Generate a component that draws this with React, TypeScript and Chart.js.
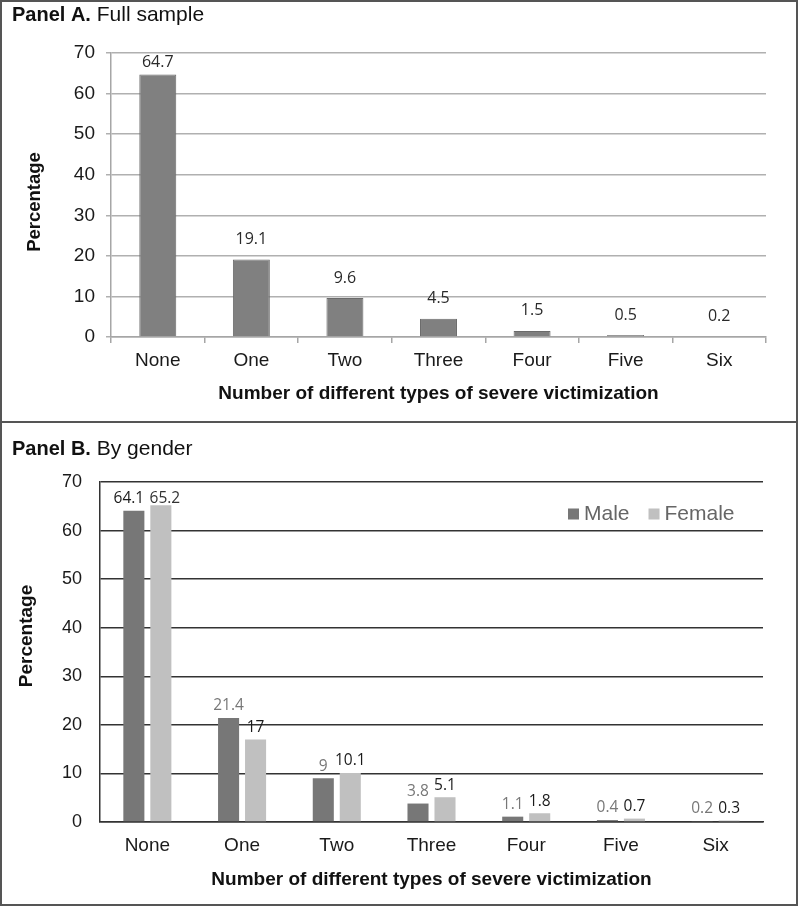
import React, { useEffect, useRef } from "react";
import { Chart, registerables } from "chart.js";

Chart.register(...registerables);

// ---------- data ----------
const categories = ["None", "One", "Two", "Three", "Four", "Five", "Six"];
const fullSample = [64.7, 19.1, 9.6, 4.5, 1.5, 0.5, 0.2];
const maleValues = [64.1, 21.4, 9, 3.8, 1.1, 0.4, 0.2];
const femaleValues = [65.2, 17, 10.1, 5.1, 1.8, 0.7, 0.3];
const yTickValues = [0, 10, 20, 30, 40, 50, 60, 70];
const seriesNames = ["Male", "Female"];
const xAxisTitle = "Number of different types of severe victimization";
const yAxisTitle = "Percentage";
const panelATitle = ["Panel A.", " Full sample"];
const panelBTitle = ["Panel B.", " By gender"];

const FONT = "'Liberation Sans', Arial, sans-serif";
const LABEL_FONT = "'Open Sans', 'Liberation Sans', sans-serif";

const yMin = yTickValues[0];
const yMax = yTickValues[yTickValues.length - 1];
const yStep = yTickValues[1] - yTickValues[0];

function panelTitlePlugin(parts: string[], x: number, y: number) {
  return {
    id: "panelTitle",
    afterDraw(chart: any) {
      const ctx = chart.ctx;
      ctx.save();
      ctx.fillStyle = "#111";
      ctx.textBaseline = "middle";
      ctx.textAlign = "left";
      ctx.font = `bold 20px ${FONT}`;
      ctx.fillText(parts[0], x, y);
      const w = ctx.measureText(parts[0]).width;
      ctx.font = `21px ${FONT}`;
      ctx.fillText(parts[1], x + w, y);
      ctx.restore();
    },
  };
}

function yTitlePlugin(text: string, x: number, y: number, size: number) {
  return {
    id: "yTitle",
    afterDraw(chart: any) {
      const ctx = chart.ctx;
      ctx.save();
      ctx.translate(x, y);
      ctx.rotate(-Math.PI / 2);
      ctx.fillStyle = "#111";
      ctx.font = `bold ${size}px ${FONT}`;
      ctx.textAlign = "center";
      ctx.textBaseline = "middle";
      ctx.fillText(text, 0, 0);
      ctx.restore();
    },
  };
}

function dataLabelPlugin(
  offset: number,
  minGap: number,
  size: number,
  colors: string[][],
  xShift: number[][]
) {
  return {
    id: "dataLabels",
    afterDatasetsDraw(chart: any) {
      const ctx = chart.ctx;
      const top = chart.chartArea.top;
      ctx.save();
      ctx.font = `${size}px ${LABEL_FONT}`;
      ctx.textAlign = "center";
      ctx.textBaseline = "middle";
      chart.data.datasets.forEach((ds: any, i: number) => {
        const meta = chart.getDatasetMeta(i);
        meta.data.forEach((el: any, j: number) => {
          const v = ds.data[j];
          const y = Math.max(el.y - offset, top + minGap);
          ctx.fillStyle = colors[i][j];
          ctx.fillText(String(v), el.x + xShift[i][j], y);
        });
      });
      ctx.restore();
    },
  };
}

const legendPlugin = {
  id: "insideLegend",
  afterDraw(chart: any) {
    const ctx = chart.ctx;
    const { right, top } = chart.chartArea;
    let x = right - 195;
    const cy = top + 32;
    ctx.save();
    ctx.font = `21px ${FONT}`;
    ctx.textBaseline = "middle";
    ctx.textAlign = "left";
    chart.data.datasets.forEach((ds: any) => {
      ctx.fillStyle = ds.backgroundColor;
      ctx.fillRect(x, cy - 5.5, 11, 11);
      x += 16;
      ctx.fillStyle = "#666";
      ctx.fillText(ds.label, x, cy);
      x += ctx.measureText(ds.label).width + 19;
    });
    ctx.restore();
  },
};

function PanelA() {
  const ref = useRef<HTMLCanvasElement>(null);
  useEffect(() => {
    const labelColors = [fullSample.map(() => "#2a2a2a")];
    const shifts = [fullSample.map(() => 0)];
    const chart = new Chart(ref.current!, {
      type: "bar",
      data: {
        labels: categories,
        datasets: [
          {
            label: "Full sample",
            data: fullSample,
            backgroundColor: "#808080",
            borderColor: "#6a6a6a",
            borderWidth: 1,
            categoryPercentage: 0.79,
            barPercentage: 0.5,
          },
        ],
      },
      options: {
        responsive: false,
        animation: false,
        devicePixelRatio: 1,
        layout: { padding: { top: 53, right: 34, left: 0, bottom: 0 } },
        plugins: {
          legend: { display: false },
          tooltip: { enabled: false },
          title: { display: false },
        },
        scales: {
          x: {
            grid: {
              display: true,
              offset: true,
              drawOnChartArea: false,
              drawTicks: true,
              tickLength: 6,
              color: "#a6a6a6",
              lineWidth: 1.5,
            },
            border: { display: true, color: "#a6a6a6", width: 1.5 },
            ticks: { padding: 6, color: "#1a1a1a", font: { family: FONT, size: 19 } },
            title: {
              display: true,
              text: xAxisTitle,
              color: "#111",
              font: { family: FONT, size: 19, weight: "bold" },
              padding: { top: 0, bottom: 17 },
            },
            afterFit: (s: any) => {
              s.height = 85;
            },
          },
          y: {
            min: yMin,
            max: yMax,
            ticks: { stepSize: yStep, padding: 11, color: "#1a1a1a", font: { family: FONT, size: 19 } },
            grid: { color: "#b0b0b0", lineWidth: 1.5, drawTicks: true, tickLength: 5 },
            border: { display: true, color: "#a6a6a6", width: 1.5 },
            afterFit: (s: any) => {
              s.width = 111;
            },
          },
        },
      },
      plugins: [
        panelTitlePlugin(panelATitle, 12, 15),
        yTitlePlugin(yAxisTitle, 35, 202, 18.5),
        dataLabelPlugin(20, 9, 16, labelColors, shifts),
      ],
    } as any);
    return () => chart.destroy();
  }, []);
  return (
    <canvas
      ref={ref}
      width={800}
      height={422}
      style={{ position: "absolute", left: 0, top: 0, width: 800, height: 422 }}
    />
  );
}

function PanelB() {
  const ref = useRef<HTMLCanvasElement>(null);
  useEffect(() => {
    const labelColors = [
      maleValues.map((_, i) => (i === 0 ? "#1a1a1a" : "#777")),
      femaleValues.map((_, i) => (i === 0 ? "#333" : "#1a1a1a")),
    ];
    const shifts = [
      maleValues.map((_, i) => (i === 0 ? -5 : 0)),
      femaleValues.map((_, i) => (i === 0 ? 4 : 0)),
    ];
    const chart = new Chart(ref.current!, {
      type: "bar",
      data: {
        labels: categories,
        datasets: [
          {
            label: seriesNames[0],
            data: maleValues,
            backgroundColor: "#777777",
            categoryPercentage: 0.57,
            barPercentage: 0.78,
          },
          {
            label: seriesNames[1],
            data: femaleValues,
            backgroundColor: "#c0c0c0",
            categoryPercentage: 0.57,
            barPercentage: 0.78,
          },
        ],
      },
      options: {
        responsive: false,
        animation: false,
        devicePixelRatio: 1,
        layout: { padding: { top: 60, right: 37, left: 0, bottom: 0 } },
        plugins: {
          legend: { display: false },
          tooltip: { enabled: false },
          title: { display: false },
        },
        scales: {
          x: {
            grid: { display: false, drawTicks: false },
            border: { display: true, color: "#333", width: 1.5 },
            ticks: { padding: 12, color: "#1a1a1a", font: { family: FONT, size: 19 } },
            title: {
              display: true,
              text: xAxisTitle,
              color: "#111",
              font: { family: FONT, size: 19, weight: "bold" },
              padding: { top: 0, bottom: 16 },
            },
            afterFit: (s: any) => {
              s.height = 85;
            },
          },
          y: {
            min: yMin,
            max: yMax,
            ticks: { stepSize: yStep, padding: 18, color: "#1a1a1a", font: { family: FONT, size: 18 } },
            grid: { color: "#333", lineWidth: 1.5, drawTicks: false },
            border: { display: true, color: "#333", width: 1.5 },
            afterFit: (s: any) => {
              s.width = 100;
            },
          },
        },
      },
      plugins: [
        panelTitlePlugin(panelBTitle, 12, 27),
        yTitlePlugin(yAxisTitle, 27, 214, 19),
        dataLabelPlugin(12, 16.5, 15.5, labelColors, shifts),
        legendPlugin,
      ],
    } as any);
    return () => chart.destroy();
  }, []);
  return (
    <canvas
      ref={ref}
      width={800}
      height={485}
      style={{ position: "absolute", left: 0, top: 422, width: 800, height: 485 }}
    />
  );
}

export default function App() {
  return (
    <div
      style={{
        position: "absolute",
        left: 0,
        top: 0,
        width: 800,
        height: 907,
        background: "#fff",
        overflow: "hidden",
      }}
    >
      <PanelA />
      <PanelB />
      <div
        style={{
          position: "absolute",
          left: 0,
          top: 0,
          width: 798,
          height: 906,
          border: "2px solid #555",
          boxSizing: "border-box",
          pointerEvents: "none",
        }}
      />
      <div
        style={{
          position: "absolute",
          left: 0,
          top: 421,
          width: 798,
          height: 2,
          background: "#555",
          pointerEvents: "none",
        }}
      />
    </div>
  );
}
